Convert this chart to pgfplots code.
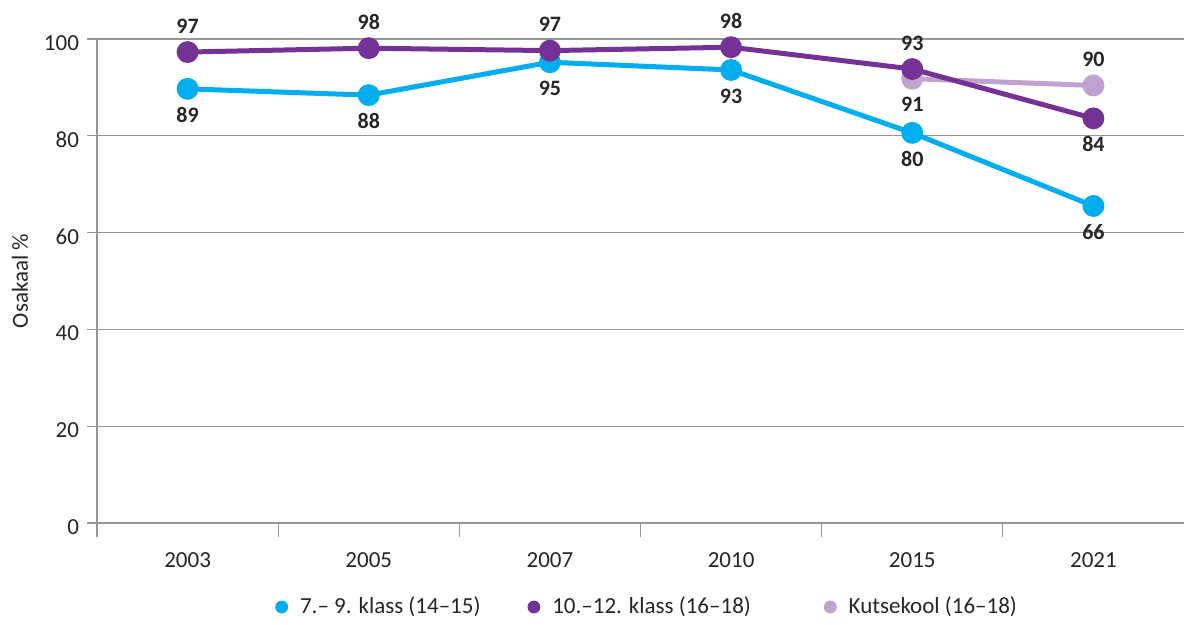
\documentclass[border=0pt]{standalone}
\usepackage{pgfplots}
\usepackage{pgfplotstable}
\pgfplotsset{compat=1.18}
\usepackage{fontspec}
\setmainfont{Carlito}
\definecolor{cblue}{RGB}{0,174,239}
\definecolor{cpurple}{RGB}{116,50,150}
\definecolor{clav}{RGB}{192,162,208}
\definecolor{cgrid}{RGB}{150,150,150}

\pgfplotstableread{
x y lab dy
0 89.7 89 -13
1 88.4 88 -13
2 95.2 95 -13
3 93.6 93 -13
4 80.6 80 -13
5 65.5 66 -13
}\blue
\pgfplotstableread{
x y lab dy
0 97.3 97 13
1 98.1 98 13
2 97.6 97 13
3 98.3 98 13
4 93.8 93 13
5 83.6 84 -13
}\purple
\pgfplotstableread{
x y lab dy
4 91.8 91 -13
5 90.4 90 13
}\lav

\begin{document}
\begin{tikzpicture}
\begin{axis}[
  at={(0,0)}, anchor=south west,
  scale only axis, width=543.5bp, height=242bp,
  xmin=-0.5, xmax=5.5, ymin=0, ymax=100,
  axis x line*=bottom, axis y line*=left,
  axis line style={cgrid, line width=0.6bp},
  xtick={0,1,2,3,4,5},
  xticklabels={2003,2005,2007,2010,2015,2021},
  major x tick style={draw=none},
  minor xtick={-0.5,0.5,1.5,2.5,3.5,4.5},
  minor x tick style={cgrid, line width=0.6bp},
  minor tick length=7bp,
  xtick align=outside,
  ytick={0,20,40,60,80,100},
  ytick align=outside,
  major tick length=5bp,
  y tick style={cgrid, line width=0.6bp},
  ymajorgrids, grid style={cgrid, line width=0.6bp},
  tick label style={font=\fontsize{11.5bp}{13bp}\selectfont, text=black!85},
  /pgf/number format/assume math mode=true,
  xticklabel style={anchor=center, yshift=-13.5bp},
  yticklabel style={anchor=east, xshift=-0.5bp, yshift=-2bp},
  ylabel={Osakaal \%},
  every axis y label/.style={at={(axis description cs:-0.0708,0.5)}, rotate=90, anchor=center, font=\fontsize{11.5bp}{13bp}\selectfont, text=black!85},
  clip=false,
  legend columns=3,
  legend style={at={(axis description cs:0.507,-0.1736)}, anchor=center, draw=none, fill=none,
    font=\fontsize{11.5bp}{13bp}\selectfont, text=black!85,
    /tikz/every even column/.append style={column sep=21.5bp},
    /tikz/every odd column/.append style={column sep=4bp}},
  legend cell align=left,
  nodes near coords={\pgfplotspointmeta},
  point meta=explicit symbolic,
  every node near coord/.style={font=\bfseries\fontsize{11bp}{13bp}\selectfont, text=black!85, anchor=center, inner sep=0pt, yshift=\dy bp},
  visualization depends on={\thisrow{dy} \as \dy},
]
\addlegendimage{legend image code/.code={\fill[cblue] (0bp,0bp) circle (3bp);}}
\addlegendentry{7.– 9. klass (14–15)}
\addlegendimage{legend image code/.code={\fill[cpurple] (0bp,0bp) circle (3bp);}}
\addlegendentry{10.–12. klass (16–18)\rule{13bp}{0pt}}
\addlegendimage{legend image code/.code={\fill[clav] (0bp,0bp) circle (3bp);}}
\addlegendentry{Kutsekool (16–18)}

\addplot[forget plot, cblue, line width=2.5bp, mark=*, mark size=4.2bp, mark options={draw=none, fill=cblue}]
  table[x=x, y=y, meta=lab] {\blue};
\addplot[forget plot, clav, line width=2.5bp, mark=*, mark size=4.2bp, mark options={draw=none, fill=clav}]
  table[x=x, y=y, meta=lab] {\lav};
\addplot[forget plot, cpurple, line width=2.5bp, mark=*, mark size=4.2bp, mark options={draw=none, fill=cpurple}]
  table[x=x, y=y, meta=lab] {\purple};
\end{axis}
\pgfresetboundingbox
\useasboundingbox (-48.5bp,-51bp) rectangle (544.5bp,261.5bp);
\end{tikzpicture}
\end{document}
